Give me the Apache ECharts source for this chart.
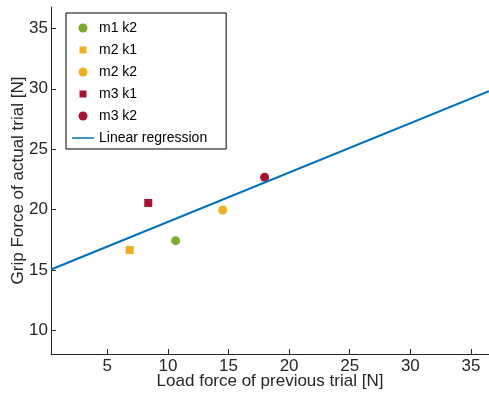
<!DOCTYPE html>
<html>
<head>
<meta charset="utf-8">
<script src="https://cdn.jsdelivr.net/npm/echarts@6/dist/echarts.min.js"></script>
<style>
  html, body { margin: 0; padding: 0; background: #fff; }
  #chart { width: 489px; height: 394px; }
</style>
</head>
<body>
<div id="chart"></div>
<script>
// Mean load force of the previous trial vs. grip force of the actual trial [N]
const seriesNames = ['m1 k2', 'm2 k1', 'm2 k2', 'm3 k1', 'm3 k2'];
const loadForce = [10.64, 6.85, 14.52, 8.38, 17.98];
const gripForce = [17.44, 16.67, 19.98, 20.56, 22.68];
const markerShapes = ['circle', 'rect', 'circle', 'rect', 'circle'];
const markerColors = ['#77AC30', '#EDB120', '#EDB120', '#A2142F', '#A2142F'];

// Fitted regression line, end points across the x range
const regressionX = [0.356, 36.49];
const regressionY = [15.05, 29.8];

// Axis tick labels
const xTicks = [5, 10, 15, 20, 25, 30, 35];
const yTicks = [10, 15, 20, 25, 30, 35];

const FONT = 'Liberation Sans, Arial, Helvetica, sans-serif';
const AXIS_COLOR = '#262626';

const squareIcon = 'path://M0,0M1,1H8V8H1ZM9,9';
const lineIcon = 'path://M0,0M0,3.75H22V5.25H0ZM22,9';

const scatterSeries = seriesNames.map((name, i) => ({
  name: name,
  type: 'scatter',
  data: [[loadForce[i], gripForce[i]]],
  symbol: markerShapes[i],
  symbolSize: markerShapes[i] === 'circle' ? 9 : 8,
  itemStyle: { color: markerColors[i], opacity: 1 },
  emphasis: { disabled: true }
}));

const regressionSeries = {
  name: 'Linear regression',
  type: 'line',
  data: regressionX.map((x, i) => [x, regressionY[i]]),
  showSymbol: false,
  symbol: 'none',
  lineStyle: { color: '#0072BD', width: 2.2 },
  itemStyle: { color: '#0072BD' },
  z: 5,
  emphasis: { disabled: true }
};

const legendData = seriesNames.map((name, i) => ({
  name: name,
  icon: markerShapes[i] === 'circle' ? 'circle' : squareIcon
}));
legendData.push({ name: 'Linear regression', icon: lineIcon });

const axisCommon = {
  type: 'value',
  nameLocation: 'middle',
  nameMoveOverlap: false,
  nameTextStyle: { fontSize: 17, color: AXIS_COLOR, fontFamily: FONT },
  axisLine: { show: true, onZero: false, lineStyle: { color: AXIS_COLOR, width: 1 } },
  axisTick: { show: true, inside: true, length: 5, lineStyle: { color: AXIS_COLOR, width: 1 } },
  splitLine: { show: false },
  axisLabel: { fontSize: 17, color: AXIS_COLOR, fontFamily: FONT }
};

const chart = echarts.init(document.getElementById('chart'), null, { renderer: 'canvas' });
chart.setOption({
  animation: false,
  backgroundColor: '#fff',
  textStyle: { fontFamily: FONT },
  grid: { left: 51, right: 0, top: 7, bottom: 40, containLabel: false, outerBoundsMode: 'none' },
  xAxis: Object.assign({}, axisCommon, {
    name: 'Load force of previous trial [N]',
    nameGap: 19,
    min: 0.356,
    max: 36.49,
    axisTick: Object.assign({}, axisCommon.axisTick, { customValues: xTicks }),
    axisLabel: Object.assign({}, axisCommon.axisLabel, { customValues: xTicks, margin: 4 })
  }),
  yAxis: Object.assign({}, axisCommon, {
    name: 'Grip Force of actual trial [N]',
    nameGap: 24,
    min: 8.07,
    max: 36.76,
    axisTick: Object.assign({}, axisCommon.axisTick, { customValues: yTicks }),
    axisLabel: Object.assign({}, axisCommon.axisLabel, { customValues: yTicks, margin: 3 })
  }),
  legend: {
    orient: 'vertical',
    left: 66,
    top: 13,
    padding: [8, 19, 4, 6],
    itemWidth: 22,
    itemHeight: 9,
    itemGap: 8,
    backgroundColor: '#fff',
    borderColor: '#000',
    borderWidth: 1,
    selectedMode: false,
    textStyle: { fontSize: 14, color: '#000', fontFamily: FONT },
    data: legendData
  },
  series: scatterSeries.concat([regressionSeries])
});
</script>
</body>
</html>
